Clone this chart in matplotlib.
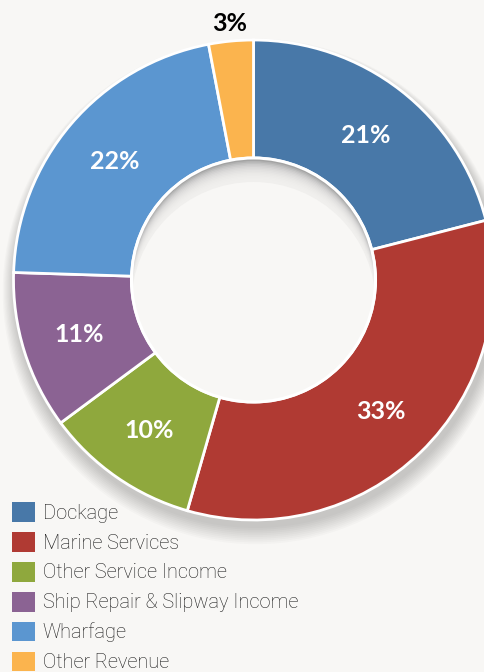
import matplotlib
matplotlib.use("Agg")
import matplotlib.pyplot as plt
from matplotlib.patches import Circle
import math

categories = ["Dockage", "Marine Services", "Other Service Income",
              "Ship Repair & Slipway Income", "Wharfage", "Other Revenue"]
values = [21.0, 33.45, 10.4, 10.65, 21.5, 3.0]
colors = ["#4878a8", "#b03a33", "#8fa83d", "#8b6393", "#5b96d0", "#fbb44e"]

W, H = 485, 672
bg = "#f8f7f5"
fig = plt.figure(figsize=(W / 100, H / 100), dpi=100, facecolor=bg)
ax = fig.add_axes([0, 0, 1, 1])
ax.set_facecolor(bg)

cx, cy, R, r_in = 253.5, H - 280, 240, 122

# soft outer shadow
for i in range(10):
    ax.add_patch(Circle((cx + 2, cy - 6 - i * 0.6), R + 2 + i * 1.2,
                        facecolor="black", alpha=0.018, edgecolor="none", zorder=0))

wedges, _ = ax.pie(values, colors=colors, startangle=90, counterclock=False,
                   center=(cx, cy), radius=R, frame=True,
                   wedgeprops=dict(width=R - r_in, edgecolor="white", linewidth=2))

# hole with inner shadow along the top
hole = Circle((cx, cy), r_in, facecolor="#8f8f8f", edgecolor="none", zorder=3)
ax.add_patch(hole)
for d in range(1, 15):
    c = Circle((cx, cy - d * 1.5), r_in, facecolor=bg, edgecolor="none",
               alpha=0.2, zorder=3)
    ax.add_patch(c)
    c.set_clip_path(hole)
c = Circle((cx, cy - 24), r_in, facecolor=bg, edgecolor="none", zorder=3)
ax.add_patch(c)
c.set_clip_path(hole)
ax.add_patch(Circle((cx, cy), r_in, facecolor="none", edgecolor="white",
                    linewidth=2.2, zorder=4))

ax.set_xlim(0, W)
ax.set_ylim(0, H)
ax.set_aspect("equal")
ax.axis("off")

total = sum(values)
start = 90.0
for v in values:
    ang = start - v / total * 360 / 2
    start -= v / total * 360
    if v < 5:
        rr, col = 258, "black"
    else:
        rr, col = 183, "white"
    x = cx + rr * math.cos(math.radians(ang))
    y = cy + rr * math.sin(math.radians(ang))
    ax.text(x, y, f"{v:.0f}%", ha="center", va="center", color=col,
            fontsize=18, fontweight="bold", family="Lato", zorder=5)

leg = fig.legend(wedges, categories, loc="upper left",
                 bbox_to_anchor=(12 / W, 1 - 502 / H), frameon=False,
                 prop=dict(family="Roboto", weight="light", size=14.4),
                 handlelength=1.15, handleheight=1.15, handletextpad=0.38,
                 labelspacing=0.46, borderpad=0, borderaxespad=0)
for t in leg.get_texts():
    t.set_color("#1a1a1a")
for h in leg.legend_handles:
    h.set_edgecolor("none")

fig.savefig("out.png", dpi=100, facecolor=bg)
